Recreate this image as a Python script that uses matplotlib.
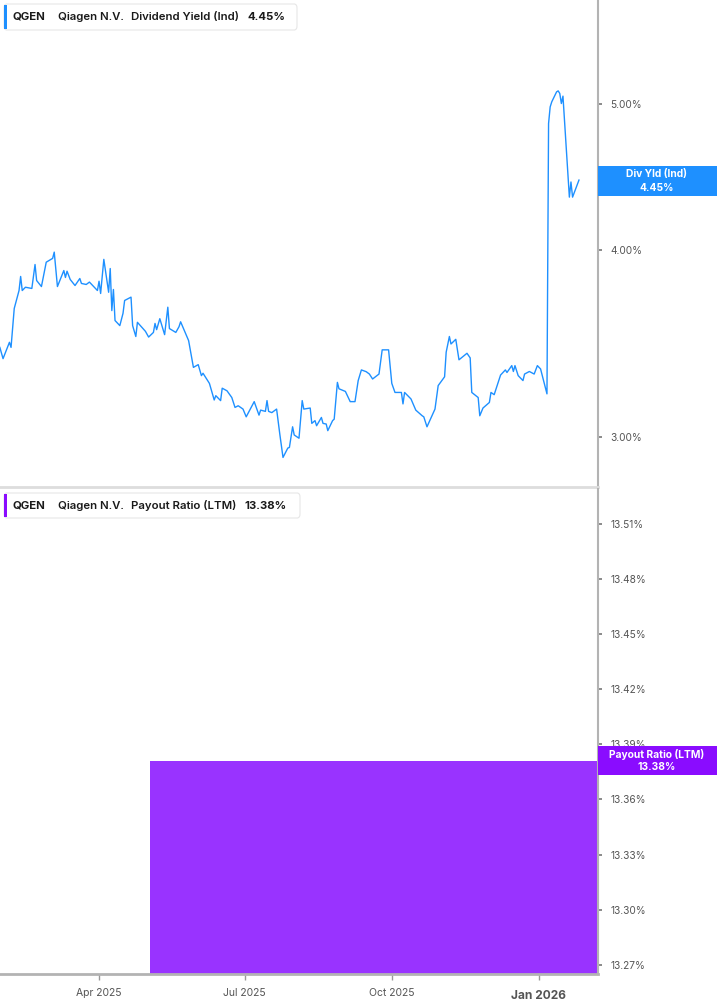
import matplotlib
matplotlib.use("Agg")
import matplotlib.pyplot as plt
import matplotlib.dates as mdates
from matplotlib.patches import FancyBboxPatch, Rectangle
from matplotlib.ticker import FixedLocator, NullLocator, FuncFormatter
import pandas as pd

plt.rcParams['font.family'] = ['Inter', 'DejaVu Sans']

# ---------------- data ----------------
yield_dates = [
    "2025-01-29", "2025-01-31", "2025-02-04", "2025-02-05", "2025-02-07", "2025-02-10",
    "2025-02-11", "2025-02-12", "2025-02-14", "2025-02-18", "2025-02-20", "2025-02-21",
    "2025-02-24", "2025-02-27", "2025-03-03", "2025-03-04", "2025-03-06", "2025-03-10",
    "2025-03-11", "2025-03-12", "2025-03-14", "2025-03-17", "2025-03-20", "2025-03-21",
    "2025-03-24", "2025-03-26", "2025-03-31", "2025-04-01", "2025-04-02", "2025-04-04",
    "2025-04-07", "2025-04-08", "2025-04-09", "2025-04-10", "2025-04-11", "2025-04-14",
    "2025-04-16", "2025-04-17", "2025-04-21", "2025-04-22", "2025-04-24", "2025-04-25",
    "2025-04-30", "2025-05-02", "2025-05-05", "2025-05-06", "2025-05-07", "2025-05-09",
    "2025-05-12", "2025-05-14", "2025-05-15", "2025-05-19", "2025-05-21", "2025-05-22",
    "2025-05-27", "2025-05-30", "2025-06-02", "2025-06-04", "2025-06-05", "2025-06-09",
    "2025-06-12", "2025-06-13", "2025-06-16", "2025-06-17", "2025-06-20", "2025-06-23",
    "2025-06-25", "2025-06-27", "2025-06-30", "2025-07-02", "2025-07-07", "2025-07-10",
    "2025-07-11", "2025-07-14", "2025-07-15", "2025-07-16", "2025-07-18", "2025-07-21",
    "2025-07-23", "2025-07-25", "2025-07-28", "2025-07-29", "2025-07-31", "2025-08-01",
    "2025-08-04", "2025-08-06", "2025-08-07", "2025-08-11", "2025-08-12", "2025-08-14",
    "2025-08-15", "2025-08-18", "2025-08-19", "2025-08-21", "2025-08-22", "2025-08-25",
    "2025-08-26", "2025-08-28", "2025-08-29", "2025-09-02", "2025-09-05", "2025-09-08",
    "2025-09-10", "2025-09-12", "2025-09-15", "2025-09-17", "2025-09-19", "2025-09-23",
    "2025-09-25", "2025-09-29", "2025-10-01", "2025-10-03", "2025-10-07", "2025-10-08",
    "2025-10-09", "2025-10-13", "2025-10-16", "2025-10-20", "2025-10-21", "2025-10-23",
    "2025-10-28", "2025-10-30", "2025-11-03", "2025-11-04", "2025-11-06", "2025-11-07",
    "2025-11-10", "2025-11-12", "2025-11-17", "2025-11-19", "2025-11-20", "2025-11-24",
    "2025-11-25", "2025-11-27", "2025-12-01", "2025-12-02", "2025-12-04", "2025-12-08",
    "2025-12-11", "2025-12-12", "2025-12-15", "2025-12-16", "2025-12-17", "2025-12-19",
    "2025-12-22", "2025-12-23", "2025-12-26", "2025-12-29", "2025-12-31", "2026-01-02",
    "2026-01-06", "2026-01-07", "2026-01-08", "2026-01-09", "2026-01-12", "2026-01-13",
    "2026-01-14", "2026-01-15", "2026-01-16", "2026-01-20", "2026-01-21", "2026-01-22",
    "2026-01-26",
]
yield_values = [
    3.442, 3.383, 3.469, 3.442, 3.654, 3.756,
    3.838, 3.756, 3.775, 3.768, 3.909, 3.814,
    3.779, 3.923, 3.946, 3.984, 3.779, 3.873,
    3.832, 3.869, 3.820, 3.785, 3.826, 3.797,
    3.791, 3.805, 3.756, 3.810, 3.739, 3.940,
    3.746, 3.885, 3.642, 3.762, 3.587, 3.559,
    3.627, 3.699, 3.718, 3.559, 3.500, 3.577,
    3.528, 3.497, 3.522, 3.571, 3.537, 3.597,
    3.510, 3.661, 3.543, 3.522, 3.553, 3.580,
    3.478, 3.338, 3.352, 3.296, 3.308, 3.257,
    3.175, 3.196, 3.172, 3.233, 3.220, 3.187,
    3.139, 3.147, 3.131, 3.094, 3.167, 3.102,
    3.126, 3.120, 3.172, 3.120, 3.114, 3.131,
    3.013, 2.907, 2.949, 2.952, 3.047, 3.009,
    2.994, 3.172, 3.131, 3.136, 3.063, 3.076,
    3.052, 3.091, 3.063, 3.060, 3.029, 3.076,
    3.083, 3.262, 3.230, 3.217, 3.167, 3.167,
    3.271, 3.325, 3.316, 3.304, 3.279, 3.304,
    3.429, 3.429, 3.257, 3.212, 3.212, 3.156,
    3.212, 3.180, 3.126, 3.099, 3.094, 3.047,
    3.131, 3.246, 3.290, 3.417, 3.500, 3.460,
    3.485, 3.377, 3.411, 3.387, 3.212, 3.187,
    3.099, 3.136, 3.163, 3.212, 3.201, 3.299,
    3.325, 3.312, 3.347, 3.317, 3.347, 3.296,
    3.271, 3.304, 3.317, 3.304, 3.347, 3.330,
    3.205, 4.854, 4.979, 5.018, 5.095, 5.103,
    5.083, 5.005, 5.062, 4.335, 4.437, 4.335,
    4.45,
]

payout_dates = ["2025-05-03", "2026-02-07"]
payout_values = [13.381, 13.381]

yield_ticks = [3.0, 4.0, 5.0]
payout_ticks = [13.27, 13.30, 13.33, 13.36, 13.39, 13.42, 13.45, 13.48, 13.51]
x_tick_dates = ["2025-04-01", "2025-07-01", "2025-10-01", "2026-01-01"]
x_tick_labels = ["Apr 2025", "Jul 2025", "Oct 2025", "Jan 2026"]

# ---------------- style ----------------
BLUE = "#1E90FF"
PURPLE_FILL = "#9933FF"
PURPLE_TAG = "#8A0CFF"
GRAY_TXT = "#555555"
SPINE = "#b3b3b3"

W, H = 717, 1005
fig = plt.figure(figsize=(W / 100, H / 100), dpi=100)

def fx(px):
    return px / W

def fy(py):
    return 1 - py / H

x_right = 598
ax1 = fig.add_axes([0, fy(487), fx(x_right), fy(0) - fy(487)])
ax2 = fig.add_axes([0, fy(974), fx(x_right), fy(489) - fy(974)])

xd = pd.to_datetime(yield_dates)
ax1.plot(xd, yield_values, color=BLUE, lw=1.0, solid_joinstyle="round")

ax1.set_yscale("log")
ax1.set_ylim(2.778, 5.867)

pd_dates = pd.to_datetime(payout_dates)
ax2.set_ylim(13.265, 13.529)
ax2.fill_between(pd_dates, payout_values, 13.265, color=PURPLE_FILL, lw=0, step="post")

base = pd.Timestamp("2025-04-01")
xlim = (base - pd.Timedelta(days=61.9), base + pd.Timedelta(days=311.9))
for ax in (ax1, ax2):
    ax.set_xlim(xlim)
    ax.set_facecolor("white")
    for s in ("left", "top"):
        ax.spines[s].set_visible(False)
    ax.spines["right"].set_color(SPINE)
    ax.spines["right"].set_linewidth(1.5)
    ax.yaxis.tick_right()
    ax.tick_params(axis="y", direction="out", length=3, width=1.2, color="#777777",
                   labelsize=7.3, labelcolor=GRAY_TXT, pad=6)
    ax.yaxis.set_minor_locator(NullLocator())

ax1.spines["bottom"].set_color("#dddddd")
ax1.spines["bottom"].set_linewidth(2)
ax1.xaxis.set_major_locator(NullLocator())
ax1.xaxis.set_minor_locator(NullLocator())
ax1.yaxis.set_major_locator(FixedLocator(yield_ticks))
ax1.yaxis.set_major_formatter(FuncFormatter(lambda v, p: f"{v:.2f}%"))

ax2.spines["bottom"].set_color(SPINE)
ax2.spines["bottom"].set_linewidth(2)
ax2.yaxis.set_major_locator(FixedLocator(payout_ticks))
ax2.yaxis.set_major_formatter(FuncFormatter(lambda v, p: f"{v:.2f}%"))
ax2.set_xticks(pd.to_datetime(x_tick_dates))
ax2.set_xticklabels(x_tick_labels)
ax2.tick_params(axis="x", direction="out", length=4, width=1, color="#999999",
                labelsize=7.5, labelcolor=GRAY_TXT, pad=6)
for lbl in ax2.get_xticklabels():
    if lbl.get_text() == "Jan 2026":
        lbl.set_fontweight("bold")
        lbl.set_fontsize(8.6)
        lbl.set_y(-0.004)

# ---------------- legend boxes ----------------
def legend_box(y0, y1, x1, color, parts):
    box = FancyBboxPatch((fx(4), fy(y1)), fx(x1) - fx(4), fy(y0) - fy(y1),
                         boxstyle="round,pad=0,rounding_size=0.004",
                         transform=fig.transFigure, facecolor="white",
                         edgecolor="#e6e6e6", lw=0.8, zorder=5)
    fig.patches.append(box)
    bar = Rectangle((fx(4), fy(y1 - 1)), fx(3), fy(y0 + 1) - fy(y1 - 1),
                    transform=fig.transFigure, facecolor=color, lw=0, zorder=6)
    fig.patches.append(bar)
    yc = fy((y0 + y1) / 2)
    for xpx, txt, wt in parts:
        fig.text(fx(xpx), yc, txt, ha="left", va="center", fontsize=8.2,
                 fontweight=wt, color="#1a1a1a", zorder=7)

legend_box(4, 30, 297, BLUE,
           [(13, "QGEN", "bold"), (58, "Qiagen N.V.", "semibold"),
            (131, "Dividend Yield (Ind)", "semibold"), (248, "4.45%", "bold")])
legend_box(493, 518, 300, PURPLE_TAG,
           [(13, "QGEN", "bold"), (58, "Qiagen N.V.", "semibold"),
            (131, "Payout Ratio (LTM)", "semibold"), (244, "13.38%", "bold")])

# ---------------- right-side value tags ----------------
def value_tag(y0, y1, color, line1, line2):
    r = Rectangle((fx(598), fy(y1)), fx(717) - fx(598), fy(y0) - fy(y1),
                  transform=fig.transFigure, facecolor=color, lw=0, zorder=8)
    fig.patches.append(r)
    fig.text(fx(657), fy(y0 + 8), line1, ha="center", va="center", fontsize=7.4,
             fontweight="bold", color="white", zorder=9)
    fig.text(fx(657), fy(y1 - 8), line2, ha="center", va="center", fontsize=7.4,
             fontweight="bold", color="white", zorder=9)

value_tag(166, 196, BLUE, "Div Yld (Ind)", f"{yield_values[-1]:.2f}%")
value_tag(746, 775, PURPLE_TAG, "Payout Ratio (LTM)", f"{payout_values[-1]:.2f}%")

fig.savefig("out.png", dpi=100, facecolor="white")
